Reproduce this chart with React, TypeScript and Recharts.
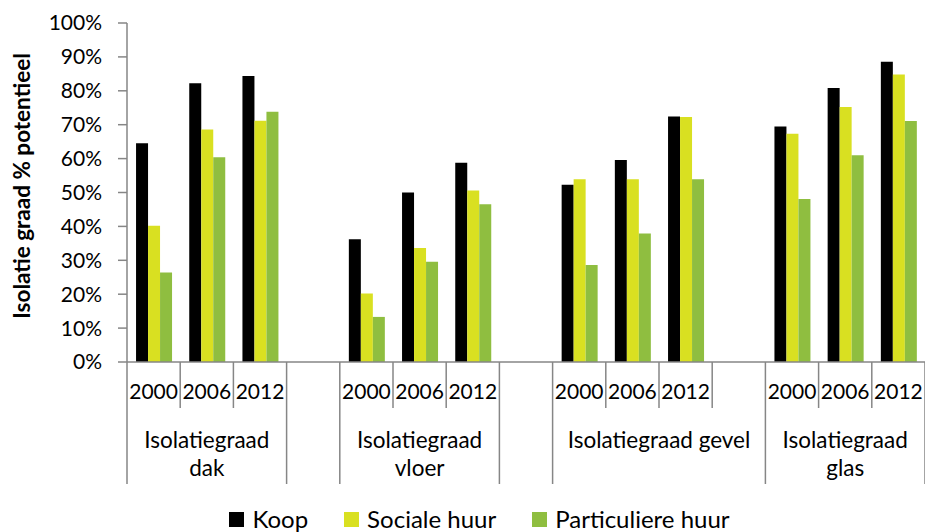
import React from "react";
import { BarChart, Bar, XAxis, YAxis, Legend } from "recharts";

const years = ["2000", "2006", "2012", "", "2000", "2006", "2012", "", "2000", "2006", "2012", "", "2000", "2006", "2012"];
const koop = [64.5, 82.2, 84.4, null, 36.2, 50.0, 58.8, null, 52.3, 59.6, 72.4, null, 69.5, 80.8, 88.6];
const socialeHuur = [40.2, 68.6, 71.2, null, 20.2, 33.6, 50.6, null, 53.9, 53.9, 72.3, null, 67.3, 75.2, 84.8];
const particuliereHuur = [26.4, 60.4, 73.8, null, 13.3, 29.6, 46.5, null, 28.6, 37.9, 53.9, null, 48.1, 61.0, 71.1];
const groupLabels = [["Isolatiegraad", "dak"], [], ["Isolatiegraad", "vloer"], [], ["Isolatiegraad gevel"], ["Isolatiegraad", "glas"]];
const groupSizes = [3, 1, 3, 1, 4, 3];
const yTicks = [0, 10, 20, 30, 40, 50, 60, 70, 80, 90, 100];

const series = [
  { key: "koop", name: "Koop", color: "#000000" },
  { key: "sociale", name: "Sociale huur", color: "#d9e021" },
  { key: "particuliere", name: "Particuliere huur", color: "#8fbe40" },
];

const data = years.map((year, i) => ({
  slot: i,
  year,
  koop: koop[i],
  sociale: socialeHuur[i],
  particuliere: particuliereHuur[i],
}));

// start index of each group along the category axis
const groupStarts: number[] = [];
groupSizes.reduce((acc, n) => {
  groupStarts.push(acc);
  return acc + n;
}, 0);

const W = 925;
const H = 532;
const LEFT = 127;
const BAND = (W - LEFT) / years.length;
const AXIS_GREY = "#868686";

const CategoryTick = (props: any) => {
  const { x, y, payload } = props;
  const i = payload.index;
  const half = BAND / 2;
  const g = groupStarts.indexOf(i);
  const isStart = g >= 0;
  const isLast = i === years.length - 1;
  return (
    <g>
      <line x1={x - half} x2={x - half} y1={y} y2={y + (isStart ? 122 : 46)} stroke={AXIS_GREY} strokeWidth={1.5} />
      {isLast && <line x1={x + half} x2={x + half} y1={y} y2={y + 122} stroke={AXIS_GREY} strokeWidth={1.5} />}
      <text x={x} y={y + 37} textAnchor="middle" fontSize={21} fill="#000">
        {years[i]}
      </text>
      {isStart &&
        groupLabels[g].map((line, k) => (
          <text
            key={k}
            x={x - half + (groupSizes[g] * BAND) / 2}
            y={y + 86 + k * 28}
            textAnchor="middle"
            fontSize={22.5}
            fill="#000"
          >
            {line}
          </text>
        ))}
    </g>
  );
};

const LegendContent = () => (
  <div style={{ display: "flex", justifyContent: "center", paddingLeft: 34, gap: 36, fontSize: 24, lineHeight: "26px" }}>
    {series.map((s) => (
      <div key={s.key} style={{ display: "flex", alignItems: "center", gap: 8 }}>
        <span style={{ width: 15, height: 15, background: s.color, display: "inline-block" }} />
        <span>{s.name}</span>
      </div>
    ))}
  </div>
);

export default function App() {
  return (
    <div style={{ position: "absolute", left: 0, top: 0, width: W, height: H, overflow: "hidden", background: "#fff", fontFamily: "Lato, sans-serif" }}>
      <BarChart
        width={W}
        height={H}
        data={data}
        margin={{ top: 23, right: 0, bottom: 0, left: 0 }}
        barCategoryGap="17%"
        barGap={0}
      >
        <XAxis
          dataKey="slot"
          height={144}
          tickSize={0}
          tickMargin={0}
          interval={0}
          axisLine={{ stroke: AXIS_GREY, strokeWidth: 1.5 }}
          tick={<CategoryTick />}
        />
        <YAxis
          width={LEFT}
          domain={[0, 100]}
          ticks={yTicks}
          interval={0}
          tickFormatter={(v) => `${v}%`}
          tick={{ fontSize: 21, fill: "#000" }}
          tickSize={9}
          tickMargin={16}
          axisLine={{ stroke: AXIS_GREY, strokeWidth: 1.5 }}
          tickLine={{ stroke: AXIS_GREY, strokeWidth: 1.5 }}
          label={{
            content: () => (
              <text
                x={21}
                y={186}
                transform="rotate(-90, 21, 186)"
                textAnchor="middle"
                dominantBaseline="central"
                fontSize={22.5}
                fontWeight="bold"
                fill="#000"
              >
                Isolatie graad % potentieel
              </text>
            ),
          }}
        />
        <Legend verticalAlign="bottom" height={26} content={<LegendContent />} />
        {series.map((s) => (
          <Bar key={s.key} dataKey={s.key} name={s.name} fill={s.color} isAnimationActive={false} />
        ))}
      </BarChart>
    </div>
  );
}
